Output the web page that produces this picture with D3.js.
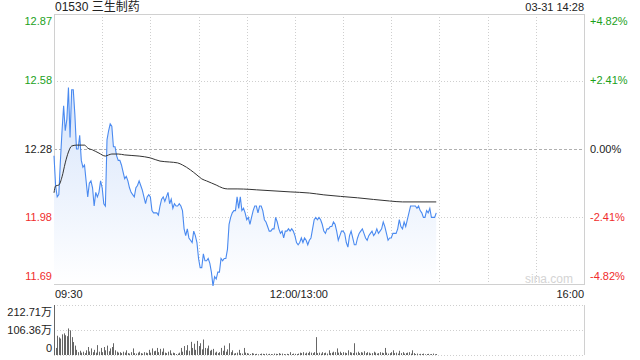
<html>
	<head>
		<meta charset="utf-8">
		<script type="text/javascript" src="https://cdn.jsdelivr.net/npm/d3@7/dist/d3.min.js"></script>
		<style>
			body{
				margin:0;
				background:#fff;
			}
			svg{
				font-family:"Liberation Sans", Arial, "Noto Sans CJK SC", sans-serif;
			}
			.grid line{
				stroke:#cfcfcf;
				stroke-dasharray:1,2;
			}
		</style>
	</head>
	<body>
		<div id="container"></div>
		<script type="text/javascript">

			var title = "01530 三生制药",
				stamp = "03-31 14:28",
				prevClose = 12.28,
				pctRange = 0.0482;

			// left / right labels, top to bottom
			var priceTicks = ["12.87", "12.58", "12.28", "11.98", "11.69"],
				pctTicks = ["+4.82%", "+2.41%", "0.00%", "-2.41%", "-4.82%"],
				volTicks = ["212.71万", "106.36万", "0"],
				volMax = 212.71;

			// minutes from 09:30 (lunch break squeezed out), 330 minutes in the day
			var timeLabels = ["09:30", "12:00/13:00", "16:00"],
				timeLabelMinutes = [0, 150, 330];

			// price per minute from 09:30 to 14:28
			var prices = [
				12.25, 12.12, 12.07, 12.08, 12.23, 12.36, 12.47, 12.36, 12.41, 12.55,
				12.33, 12.54, 12.54, 12.43, 12.28, 12.28, 12.34, 12.23, 12.20, 12.21,
				12.14, 12.07, 12.13, 12.14, 12.11, 12.03, 12.09, 12.07, 12.09, 12.14,
				12.11, 12.04, 12.03, 12.32, 12.36, 12.39, 12.38, 12.29, 12.29, 12.25,
				12.23, 12.23, 12.21, 12.18, 12.15, 12.16, 12.14, 12.11, 12.09, 12.08,
				12.07, 12.11, 12.12, 12.14, 12.12, 12.10, 12.07, 12.04, 12.07, 12.08,
				12.07, 12.01, 12.00, 12.00, 12.00, 11.99, 12.03, 12.06, 12.07, 12.05,
				12.07, 12.09, 12.04, 12.06, 12.02, 12.04, 12.03, 12.03, 12.04, 12.03,
				12.01, 11.93, 11.90, 11.93, 11.89, 11.88, 11.87, 11.92, 11.90, 11.87,
				11.80, 11.76, 11.76, 11.82, 11.79, 11.79, 11.80, 11.78, 11.74, 11.68,
				11.72, 11.71, 11.74, 11.74, 11.80, 11.79, 11.80, 11.80, 11.84, 11.95,
				11.98, 12.00, 12.01, 12.01, 12.07, 12.02, 12.07, 12.01, 12.02, 12.00,
				11.97, 11.98, 11.95, 11.98, 12.01, 12.03, 12.03, 12.00, 12.03, 12.03,
				12.01, 11.97, 11.96, 11.94, 11.92, 11.92, 11.93, 11.93, 11.98, 11.96,
				11.93, 11.91, 11.92, 11.89, 11.92, 11.92, 11.93, 11.92, 11.93, 11.92,
				11.90, 11.87, 11.86, 11.87, 11.89, 11.87, 11.89, 11.88, 11.86, 11.88,
				11.89, 11.93, 11.97, 11.98, 11.97, 11.98, 11.97, 11.95, 11.92, 11.91,
				11.93, 11.93, 11.94, 11.94, 11.96, 11.95, 11.92, 11.88, 11.90, 11.92,
				11.92, 11.91, 11.87, 11.85, 11.90, 11.92, 11.89, 11.86, 11.86, 11.89,
				11.91, 11.92, 11.93, 11.91, 11.89, 11.88, 11.90, 11.91, 11.92, 11.90,
				11.91, 11.93, 11.91, 11.92, 11.93, 11.96, 11.94, 11.91, 11.88, 11.89,
				11.89, 11.91, 11.91, 11.91, 11.93, 11.97, 11.94, 11.93, 11.96, 11.94,
				11.97, 12.00, 12.03, 12.03, 12.03, 12.03, 12.02, 12.03, 12.01, 12.00,
				11.98, 11.98, 12.01, 12.00, 12.02, 11.98, 11.98, 11.98, 12.00
			];

			// average price line, read at these minutes
			var avgMinutes = [0, 1, 3, 5, 7, 9, 11, 14, 19, 21, 24, 28, 32, 34, 36, 40, 44, 53, 60, 66,
				72, 77, 80, 85, 89, 92, 95, 98, 101, 105, 108, 114, 122, 126, 147, 159, 168, 189, 209, 217, 238];
			var avgPrices = [12.088, 12.118, 12.122, 12.158, 12.219, 12.267, 12.293, 12.297, 12.297, 12.284,
				12.276, 12.262, 12.249, 12.254, 12.258, 12.258, 12.254, 12.249, 12.241, 12.227,
				12.223, 12.219, 12.210, 12.188, 12.166, 12.149, 12.140, 12.131, 12.122, 12.109,
				12.105, 12.105, 12.103, 12.101, 12.092, 12.087, 12.079, 12.066, 12.052, 12.048, 12.048];

			// volume per minute, 万股
			var volumes = [
				212.71, 30, 82, 75, 70, 88, 92, 84, 80, 113,
				105, 76, 55, 40, 22, 12, 18, 10, 14, 8,
				20, 34, 15, 28, 12, 22, 10, 42, 14, 30,
				12, 34, 20, 40, 16, 28, 34, 50, 20, 14,
				10, 12, 8, 14, 10, 20, 8, 6, 12, 28,
				8, 6, 10, 14, 8, 6, 12, 10, 8, 22,
				10, 28, 16, 18, 30, 12, 26, 14, 28, 10,
				8, 14, 20, 6, 10, 8, 4, 6, 10, 30,
				14, 38, 20, 42, 18, 56, 30, 48, 22, 60,
				38, 50, 24, 66, 30, 28, 40, 18, 22, 26,
				10, 14, 8, 12, 30, 18, 40, 14, 24, 50,
				12, 20, 6, 8, 10, 22, 8, 6, 30, 10,
				8, 6, 4, 8, 6, 4, 5, 3, 4, 6,
				5, 4, 6, 3, 5, 4, 3, 6, 5, 4,
				8, 5, 6, 4, 3, 5, 4, 12, 4, 6,
				5, 4, 6, 10, 8, 12, 6, 10, 8, 14,
				10, 8, 12, 76, 8, 10, 6, 12, 8, 10,
				6, 20, 8, 10, 14, 12, 28, 10, 14, 8,
				12, 10, 8, 20, 12, 10, 8, 50, 10, 14,
				8, 12, 10, 16, 8, 12, 10, 6, 8, 14,
				10, 6, 8, 12, 10, 8, 30, 10, 6, 8,
				12, 20, 8, 10, 6, 18, 8, 12, 6, 8,
				10, 12, 6, 20, 8, 4, 6, 3, 5, 4,
				6, 3, 4, 5, 3, 4, 6, 3, 4
			];

			var green = "#1ba11b", red = "#f02c2c", black = "#222";
			var tickColors = [green, green, black, red, red];

			var W = 640, H = 360,
				L = 54, R = 584,
				pTop = 14, pBot = 284,
				vTop = 305, vBot = 355;

			var svg = d3.select("#container")
					.append("svg")
					.attr("width", W)
					.attr("height", H);

			var x = d3.scaleLinear()
				.domain([0, 330])
				.range([L, R]);

			var y = d3.scaleLinear()
				.domain([prevClose*(1-pctRange), prevClose*(1+pctRange)])
				.range([pBot, pTop]);

			var yv = d3.scaleLinear()
				.domain([0, volMax])
				.range([vBot, vTop]);

			var tickValues = priceTicks.map(function(d){ return +d; });

			// gradient for the area under the price
			var grad = svg.append("defs").append("linearGradient")
				.attr("id", "fillGrad")
				.attr("x1", 0).attr("y1", 0).attr("x2", 0).attr("y2", 1);
			grad.append("stop").attr("offset", "0%").attr("stop-color", "#d6e4fb");
			grad.append("stop").attr("offset", "100%").attr("stop-color", "#ffffff");

			// grid
			var grid = svg.append("g").attr("class", "grid");

			grid.selectAll("line.v").data(d3.range(30, 330, 30)).enter().append("line")
				.attr("class", "v")
				.attr("x1", function(d){ return Math.round(x(d))+0.5; })
				.attr("x2", function(d){ return Math.round(x(d))+0.5; })
				.attr("y1", pTop)
				.attr("y2", pBot);

			grid.selectAll("line.h").data(tickValues.slice(1, 4)).enter().append("line")
				.attr("class", "h")
				.attr("x1", L)
				.attr("x2", R)
				.attr("y1", function(d){ return Math.round(y(d))+0.5; })
				.attr("y2", function(d){ return Math.round(y(d))+0.5; })
				.style("stroke", function(d){ return d === prevClose ? "#b0b0b0" : null; })
				.style("stroke-dasharray", function(d){ return d === prevClose ? "3,2" : null; });

			grid.selectAll("line.vol").data([volMax, volMax/2, 0]).enter().append("line")
				.attr("class", "vol")
				.attr("x1", L)
				.attr("x2", R)
				.attr("y1", function(d){ return Math.round(yv(d))+0.5; })
				.attr("y2", function(d){ return Math.round(yv(d))+0.5; });

			// frame of the price panel
			svg.append("rect")
				.attr("x", L+0.5).attr("y", pTop+0.5)
				.attr("width", R-L).attr("height", pBot-pTop)
				.attr("fill", "none")
				.attr("stroke", "#d0d0d0");

			svg.append("line")
				.attr("x1", R+0.5).attr("x2", R+0.5)
				.attr("y1", vTop).attr("y2", vBot)
				.attr("stroke", "#d0d0d0");
			svg.append("line")
				.attr("x1", L+0.5).attr("x2", L+0.5)
				.attr("y1", vTop).attr("y2", vBot)
				.attr("stroke", "#d0d0d0");

			// watermark
			svg.append("text")
				.attr("x", 573).attr("y", 283)
				.attr("text-anchor", "end")
				.attr("font-size", 12)
				.attr("fill", "#d4d4d4")
				.text("sina.com");

			// price area + line
			var area = d3.area()
				.x(function(d,i){ return x(i); })
				.y0(pBot)
				.y1(function(d,i){ return y(d); });

			var line = d3.line()
				.x(function(d,i){ return x(i); })
				.y(function(d,i){ return y(d); });

			svg.append("path")
				.datum(prices)
				.attr("d", area)
				.attr("fill", "url(#fillGrad)");

			svg.append("path")
				.datum(prices)
				.attr("d", line)
				.attr("fill", "none")
				.attr("stroke", "#4a8af0")
				.attr("stroke-width", 1.1);

			svg.append("path")
				.datum(avgMinutes)
				.attr("d", d3.line()
					.x(function(d,i){ return x(d); })
					.y(function(d,i){ return y(avgPrices[i]); })
					.curve(d3.curveMonotoneX))
				.attr("fill", "none")
				.attr("stroke", "#333")
				.attr("stroke-width", 1);

			// volume bars
			svg.append("g").selectAll("line").data(volumes).enter().append("line")
				.attr("x1", function(d,i){ return Math.round(x(i))+0.5; })
				.attr("x2", function(d,i){ return Math.round(x(i))+0.5; })
				.attr("y1", vBot)
				.attr("y2", function(d){ return yv(d); })
				.attr("stroke", "#666")
				.attr("stroke-width", 1);

			// left price labels
			var labelY = function(v, i, n){
				var yy = y(v);
				if(i === 0) return yy + 7;
				if(i === n-1) return yy - 7;
				return yy;
			};

			svg.append("g").selectAll("text").data(tickValues).enter().append("text")
				.attr("x", 52)
				.attr("y", function(d,i){ return labelY(d, i, tickValues.length); })
				.attr("dy", "0.35em")
				.attr("text-anchor", "end")
				.attr("font-size", 11)
				.attr("fill", function(d,i){ return tickColors[i]; })
				.text(function(d,i){ return priceTicks[i]; });

			// right percent labels
			svg.append("g").selectAll("text").data(tickValues).enter().append("text")
				.attr("x", 590)
				.attr("y", function(d,i){ return labelY(d, i, tickValues.length); })
				.attr("dy", "0.35em")
				.attr("font-size", 11)
				.attr("fill", function(d,i){ return tickColors[i]; })
				.text(function(d,i){ return pctTicks[i]; });

			// volume labels
			var volVals = [volMax, volMax/2, 0];
			svg.append("g").selectAll("text").data(volVals).enter().append("text")
				.attr("x", 52)
				.attr("y", function(d,i){
					var yy = yv(d);
					if(i === 0) return yy + 7;
					if(i === 2) return yy - 7;
					return yy;
				})
				.attr("dy", "0.35em")
				.attr("text-anchor", "end")
				.attr("font-size", 11)
				.attr("fill", black)
				.text(function(d,i){ return volTicks[i]; });

			// time labels
			svg.append("g").selectAll("text").data(timeLabelMinutes).enter().append("text")
				.attr("x", function(d,i){ return i === 0 ? x(d)+1 : (i === 2 ? x(d) : x(d)+4); })
				.attr("y", 298)
				.attr("text-anchor", function(d,i){ return i === 0 ? "start" : (i === 2 ? "end" : "middle"); })
				.attr("font-size", 11)
				.attr("fill", black)
				.text(function(d,i){ return timeLabels[i]; });

			// header
			svg.append("text")
				.attr("x", 55).attr("y", 11)
				.attr("font-size", 12)
				.attr("fill", black)
				.text(title);

			svg.append("text")
				.attr("x", R).attr("y", 11)
				.attr("text-anchor", "end")
				.attr("font-size", 11)
				.attr("fill", black)
				.text(stamp);

		</script>
	</body>
</html>
